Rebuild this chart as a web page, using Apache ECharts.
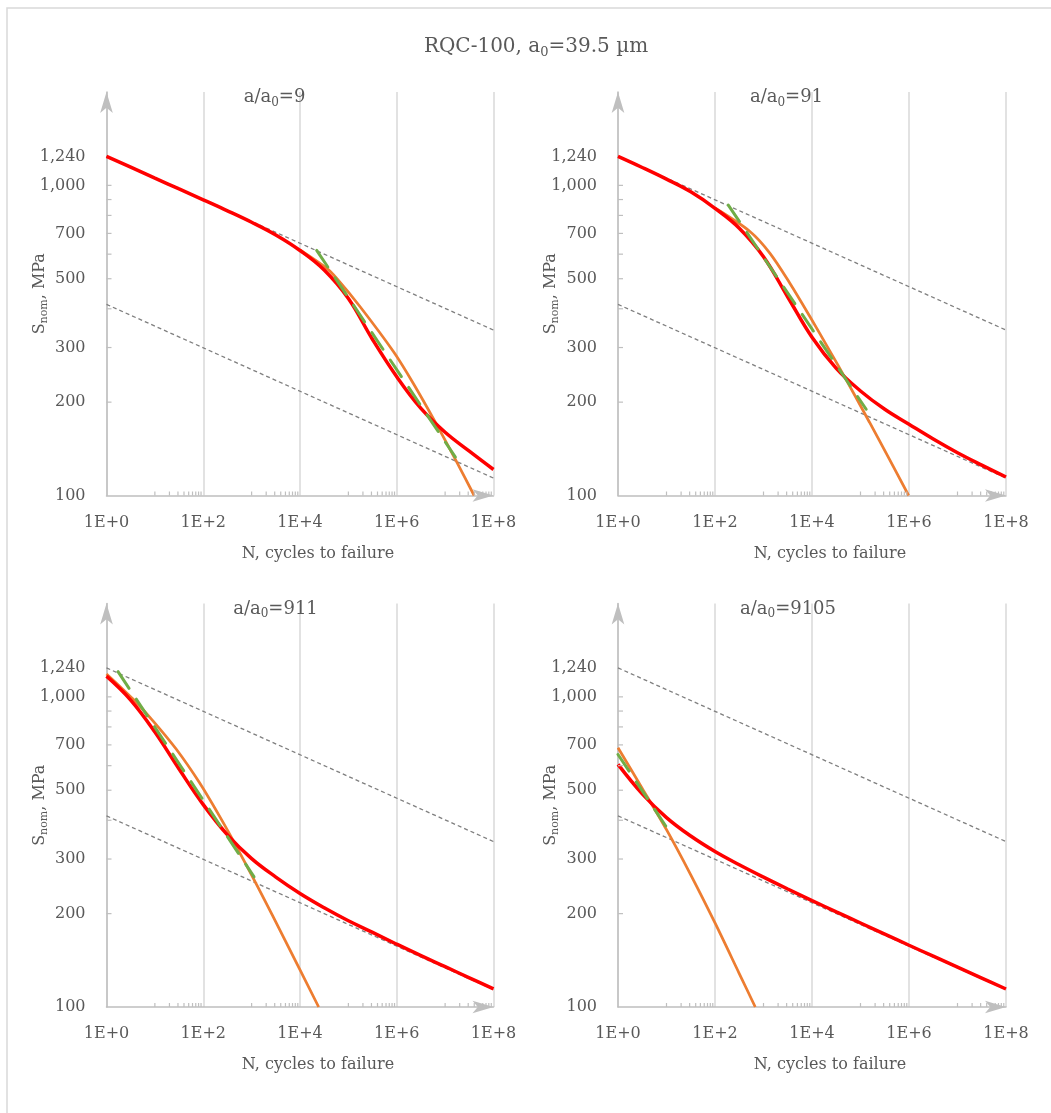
<!DOCTYPE html>
<html><head><meta charset="utf-8">
<script src="https://cdn.jsdelivr.net/npm/echarts@6/dist/echarts.min.js"></script>
<style>html,body{margin:0;padding:0;background:#fff}#c{width:1051px;height:1113px}</style>
</head><body><div id="c"></div>
<script>
// ---------- data ----------
const panelRatios = ['9', '91', '911', '9105'];
const yTickValues = [100, 200, 300, 500, 700, 1000, 1240];
const yMinorTickValues = [200, 300, 400, 500, 600, 700, 800, 900, 1000];

// shared straight reference lines
const upperN = [1, 1e8];
const upperS = [1240, 341.5];
const lowerN = [1, 1e8];
const lowerS = [413.3, 113.8];

// red curves are read every half decade of N
const redN = [1, 3.162, 10, 31.62, 100, 316.2, 1000, 3162, 1e4, 31623, 1e5, 316228, 1e6, 3.162e6, 1e7, 3.162e7, 1e8];

const red1S = [1240, 1144.3, 1055.4, 973.6, 898.2, 827.9, 760.3, 691.8, 616.6, 533.3, 431.5, 318.4, 241.5, 191.0, 160.0, 139.0, 121.3];
const orange1N = [1e4, 35730, 57540, 175000, 859000, 2.234e6, 6.31e6, 1.766e7, 3.98e7];
const orange1S = [619, 540, 501.2, 406, 290.6, 228.8, 172, 127.6, 100];
const green1N = [22130, 1.63e7];
const green1S = [617, 133];

const red2S = [1240, 1141.9, 1047.1, 952.8, 843.3, 727.8, 588.8, 436.5, 323.6, 257.0, 217.3, 189.7, 169.7, 152.1, 137.4, 125.3, 114.7];
const orange2N = [100, 525, 1349, 3467, 8974, 23070, 50820, 153100, 393600, 984000];
const orange2S = [845, 710, 604.8, 484.4, 378.3, 293.3, 236, 172.3, 131, 100];
const green2N = [188, 130900];
const green2S = [864, 189.7];

const red3S = [1166, 976.6, 769.9, 585.2, 449.2, 358.9, 300.9, 262.4, 232.3, 208.9, 189.7, 174.0, 159.4, 146.4, 134.9, 124.2, 114.4];
const orange3N = [1, 3.53, 9.12, 27.54, 83.18, 213.8, 473, 1426, 5012, 24320];
const orange3S = [1186, 983.8, 837.3, 678.8, 529.4, 414.1, 331.6, 239.4, 163.2, 100];
const green3N = [1.73, 1122];
const green3S = [1206, 262.8];

const red4S = [605.7, 486.8, 408.1, 355.8, 317.2, 287.6, 262.3, 240.1, 220.4, 202.7, 186.6, 171.8, 158.2, 145.8, 134.4, 123.9, 114.3];
const orange4N = [1, 3.162, 10, 31.62, 100, 316.2, 676];
const orange4S = [685.5, 507, 373, 266.7, 186.6, 128.2, 100];
const green4N = [1, 10.96];
const green4S = [652, 372];

// ---------- layout / style ----------
const F = 'DejaVu Serif';
const TXT = '#595959';
const AXIS = '#bfbfbf';
const GRIDC = '#d9d9d9';
const grids = [
  {left: 106.5, top: 92, width: 387, height: 403.5},
  {left: 618, top: 92, width: 388, height: 403.5},
  {left: 106.5, top: 603.5, width: 387, height: 403.5},
  {left: 618, top: 603.5, width: 388, height: 403.5}
];
const titleX = [274.5, 786.5, 275.5, 788];
const titleY = [86.5, 86.5, 598, 598];

const zip = (xs, ys) => xs.map((x, i) => [x, ys[i]]);
const panels = [
  {red: zip(redN, red1S), orange: zip(orange1N, orange1S), green: zip(green1N, green1S)},
  {red: zip(redN, red2S), orange: zip(orange2N, orange2S), green: zip(green2N, green2S)},
  {red: zip(redN, red3S), orange: zip(orange3N, orange3S), green: zip(green3N, green3S)},
  {red: zip(redN, red4S), orange: zip(orange4N, orange4S), green: zip(green4N, green4S)}
];

// minor tick positions on the x axis: 10..90 within each pair of decades
const xMinor = [];
[1, 3, 5, 7].forEach(k => { for (let m = 1; m <= 9; m++) xMinor.push([m * Math.pow(10, k), 100]); });
const yMinor = yMinorTickValues.map(v => [1, v]);

const arrowLine = {
  show: true,
  lineStyle: {color: AXIS, width: 1.5},
  symbol: ['none', 'arrow'],
  symbolSize: [9.5, 21],
  symbolOffset: [0, 0]
};

const xAxes = [], yAxes = [], series = [], titles = [];
titles.push({
  text: '{n|RQC-100, a}{sub|0}{n|=39.5 µm}',
  left: 536, top: 35, textAlign: 'center', padding: 0,
  textStyle: {
    fontFamily: F, fontWeight: 'normal', color: TXT,
    rich: {
      n: {fontFamily: F, fontSize: 20, lineHeight: 24, color: TXT},
      sub: {fontFamily: F, fontSize: 13, lineHeight: 13, verticalAlign: 'bottom', color: TXT}
    }
  }
});

panels.forEach((p, i) => {
  titles.push({
    text: '{n|a/a}{sub|0}{n|=' + panelRatios[i] + '}',
    left: titleX[i], top: titleY[i], textAlign: 'center', padding: 0,
    textStyle: {
      fontFamily: F, fontWeight: 'normal', color: TXT,
      rich: {
        n: {fontFamily: F, fontSize: 18, lineHeight: 22, color: TXT},
        sub: {fontFamily: F, fontSize: 12, lineHeight: 12, verticalAlign: 'bottom', color: TXT}
      }
    }
  });
  xAxes.push({
    type: 'log', logBase: 100, min: 1, max: 1e8, interval: 1, gridIndex: i,
    axisLine: arrowLine,
    axisTick: {show: false},
    axisLabel: {
      color: TXT, fontFamily: F, fontSize: 16, margin: 19,
      formatter: v => '1E+' + Math.round(Math.log10(v))
    },
    splitLine: {show: true, lineStyle: {color: GRIDC, width: 1.5}},
    name: 'N, cycles to failure', nameLocation: 'middle', nameGap: 50, nameMoveOverlap: false,
    nameTextStyle: {color: TXT, fontFamily: F, fontSize: 16, padding: [0, 0, 0, 36]}
  });
  yAxes.push({
    type: 'log', logBase: 10, min: 100, max: 2000, gridIndex: i,
    axisLine: arrowLine,
    axisTick: {show: false},
    axisLabel: {
      customValues: yTickValues,
      color: TXT, fontFamily: F, fontSize: 16, margin: 21,
      formatter: v => Math.round(v).toLocaleString('en-US')
    },
    splitLine: {show: false},
    name: '{n|S}{sub|nom}{n|, MPa}', nameLocation: 'middle', nameGap: 57, nameMoveOverlap: false,
    nameTextStyle: {
      color: TXT, fontFamily: F, fontSize: 16,
      rich: {
        n: {fontFamily: F, fontSize: 16, lineHeight: 20, color: TXT},
        sub: {fontFamily: F, fontSize: 11, lineHeight: 11, verticalAlign: 'bottom', color: TXT}
      }
    }
  });
  const base = {type: 'line', xAxisIndex: i, yAxisIndex: i, showSymbol: false, symbol: 'none', silent: true, animation: false};
  series.push(Object.assign({}, base, {data: zip(upperN, upperS), z: 2, lineStyle: {color: '#7f7f7f', width: 1.3, type: [4, 3]}}));
  series.push(Object.assign({}, base, {data: zip(lowerN, lowerS), z: 2, lineStyle: {color: '#7f7f7f', width: 1.3, type: [4, 3]}}));
  series.push(Object.assign({}, base, {data: p.orange, z: 3, smooth: 0.3, lineStyle: {color: '#ed7d31', width: 2.75}}));
  series.push(Object.assign({}, base, {data: p.red, z: 4, smooth: 0.4, lineStyle: {color: '#ff0000', width: 3.5}}));
  series.push(Object.assign({}, base, {data: p.green, z: 5, lineStyle: {color: '#70ad47', width: 3, type: [20, 13], cap: 'round'}}));
  series.push({
    type: 'custom', xAxisIndex: i, yAxisIndex: i, silent: true, animation: false, clip: false, z: 6,
    data: xMinor,
    renderItem: (params, api) => {
      const pt = api.coord([api.value(0), api.value(1)]);
      return {type: 'line', shape: {x1: pt[0], y1: pt[1], x2: pt[0], y2: pt[1] - 4}, style: {stroke: AXIS, lineWidth: 1.2}};
    }
  });
  series.push({
    type: 'custom', xAxisIndex: i, yAxisIndex: i, silent: true, animation: false, clip: false, z: 6,
    data: yMinor,
    renderItem: (params, api) => {
      const pt = api.coord([api.value(0), api.value(1)]);
      return {type: 'line', shape: {x1: pt[0], y1: pt[1], x2: pt[0] + 5, y2: pt[1]}, style: {stroke: AXIS, lineWidth: 1.2}};
    }
  });
});

const chart = echarts.init(document.getElementById('c'), null, {renderer: 'canvas'});
chart.setOption({
  animation: false,
  backgroundColor: '#ffffff',
  title: titles,
  grid: grids,
  xAxis: xAxes,
  yAxis: yAxes,
  series: series,
  graphic: [{
    type: 'rect', silent: true, z: -10,
    shape: {x: 7, y: 8, width: 1100, height: 1200},
    style: {fill: 'none', stroke: '#d9d9d9', lineWidth: 1.5}
  }]
});
</script>
</body></html>
